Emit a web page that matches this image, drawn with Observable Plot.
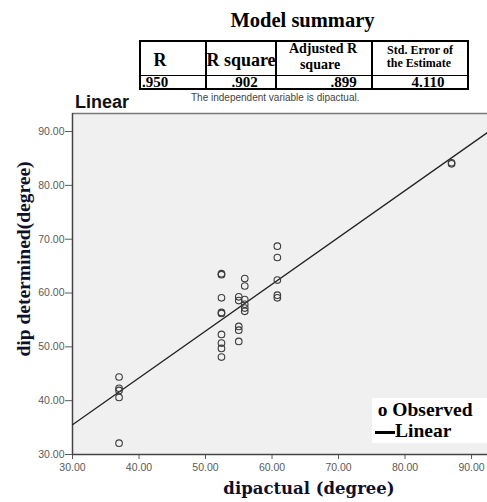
<!DOCTYPE html>
<html><head><meta charset="utf-8">
<script src="https://cdn.jsdelivr.net/npm/d3@7"></script>
<script src="https://cdn.jsdelivr.net/npm/@observablehq/plot@0.6"></script>
<style>
body{margin:0;background:#fff;}
#wrap{position:relative;width:487px;height:502px;overflow:hidden;}
#wrap svg{position:absolute;left:0;top:0;}
.t{position:absolute;white-space:nowrap;line-height:1;}
.ln{position:absolute;background:#000;}
</style></head><body>
<div id="wrap"></div>
<script>
// ---- data ----
const summaryHeaders = ["R", "R square", "Adjusted R", "square", "Std. Error of", "the Estimate"];
const summaryValues = [".950", ".902", ".899", "4.110"];
const dipActual = [
  37, 37, 37, 37, 37,
  52.4, 52.4, 52.4, 52.4, 52.4, 52.4, 52.4, 52.4, 52.4,
  55.0, 55.0, 55.0, 55.0, 55.0,
  55.9, 55.9, 55.9, 55.9, 55.9, 55.9,
  60.8, 60.8, 60.8, 60.8, 60.8,
  87, 87
];
const dipDetermined = [
  44.4, 42.3, 41.9, 40.6, 32.1,
  63.6, 63.4, 59.1, 56.4, 56.2, 52.3, 50.7, 49.7, 48.1,
  59.3, 58.6, 53.8, 53.1, 51.0,
  62.7, 61.3, 58.8, 57.9, 57.2, 56.6,
  68.7, 66.6, 62.4, 59.6, 59.1,
  84.0, 84.2
];
const fitCoef = [9.45, 0.8697]; // intercept, slope of the linear fit
const xTicks = [30, 40, 50, 60, 70, 80, 90];
const yTicks = [30, 40, 50, 60, 70, 80, 90];
const xDomain = [30, 92.4];
const yDomain = [30, 93.35];

// ---- build ----
const points = dipActual.map((x, i) => ({x, y: dipDetermined[i]}));
const fitLine = xDomain.map(x => ({x, y: fitCoef[0] + fitCoef[1] * x}));

const plot = Plot.plot({
  width: 487, height: 502,
  marginLeft: 72, marginRight: 0, marginTop: 113, marginBottom: 48,
  style: {fontFamily: '"Liberation Sans", Arial, sans-serif', fontSize: "10.5px", color: "#5a5a5a", background: "transparent", overflow: "visible"},
  x: {domain: xDomain, ticks: xTicks, tickFormat: d3.format(".2f"), tickSize: 5, tickPadding: 4, label: null},
  y: {domain: yDomain, ticks: yTicks, tickFormat: d3.format(".2f"), tickSize: 7, tickPadding: 1, label: null},
  marks: [
    Plot.frame({fill: "#f0f0f0", stroke: null}),
    Plot.ruleY([yDomain[1]], {stroke: "#777", strokeWidth: 1.5}),
    Plot.ruleX([xDomain[0]], {stroke: "#444", strokeWidth: 1.5}),
    Plot.ruleY([yDomain[0]], {stroke: "#444", strokeWidth: 1.5}),
    Plot.line(fitLine, {x: "x", y: "y", stroke: "#222", strokeWidth: 1.3, clip: true}),
    Plot.dot(points, {x: "x", y: "y", r: 3.3, stroke: "#3c3c3c", strokeWidth: 1.1, fill: "none"})
  ]
});
const wrap = document.getElementById("wrap");
wrap.appendChild(plot);

const SERIF = '"Liberation Serif","Times New Roman",serif';
const SANS = '"Liberation Sans",Arial,sans-serif';
function txt(s, x, base, size, opt = {}) {
  const d = document.createElement("div");
  d.className = "t";
  d.textContent = s;
  d.style.fontFamily = opt.font || SERIF;
  d.style.fontSize = size + "px";
  d.style.fontWeight = opt.weight || "bold";
  d.style.color = opt.color || "#000";
  if (opt.ls) d.style.letterSpacing = opt.ls + "px";
  d.style.left = x + "px";
  d.style.top = (base - 0.84 * size) + "px";
  if (opt.anchor === "middle") d.style.transform = "translateX(-50%)";
  wrap.appendChild(d);
  return d;
}
function box(l, t, w, h, bg) {
  const d = document.createElement("div");
  d.className = "ln";
  d.style.left = l + "px"; d.style.top = t + "px";
  d.style.width = w + "px"; d.style.height = h + "px";
  if (bg) d.style.background = bg;
  wrap.appendChild(d);
  return d;
}

// title + table
txt("Model summary", 302.5, 27, 20.5, {anchor: "middle"});
box(139, 40, 330, 2); box(139, 88, 330, 2); box(139, 40, 2, 50); box(467, 40, 2, 50);
box(139, 74.5, 330, 1.5);
box(205, 40, 1.5, 50); box(275, 40, 1.5, 50); box(371, 40, 1.5, 50);
txt(summaryHeaders[0], 160, 65.7, 18, {anchor: "middle"});
txt(summaryHeaders[1], 241, 65.7, 18, {anchor: "middle"});
txt(summaryHeaders[2], 323, 54, 14, {anchor: "middle"});
txt(summaryHeaders[3], 320, 69.5, 14, {anchor: "middle"});
txt(summaryHeaders[4], 420, 54, 12, {anchor: "middle"});
txt(summaryHeaders[5], 419, 67.5, 12, {anchor: "middle"});
txt(summaryValues[0], 155, 87.3, 15, {anchor: "middle"});
txt(summaryValues[1], 244.5, 87.3, 15, {anchor: "middle"});
txt(summaryValues[2], 343.5, 87.3, 15, {anchor: "middle"});
txt(summaryValues[3], 428, 87.3, 15, {anchor: "middle"});

// chart header + note
txt("Linear", 75, 108, 18, {font: SANS, color: "#111"});
txt("The independent variable is dipactual.", 191, 101.5, 10, {font: SANS, weight: "normal", color: "#444"});

// axis titles
const yl = document.createElement("div");
yl.className = "t";
yl.textContent = "dip determined(degree)";
Object.assign(yl.style, {fontFamily: SERIF, fontSize: "19.5px", fontWeight: "bold", color: "#10102a",
  left: "24px", top: "259px", transform: "translate(-50%,-50%) rotate(-90deg)"});
wrap.appendChild(yl);
txt("dipactual (degree)", 309, 495, 16.5, {font: '"DejaVu Serif",serif', anchor: "middle", color: "#10102a"});

// legend
box(372, 398, 115, 45, "#fff");
txt("o Observed", 377.7, 416, 19.5);
box(375, 430.5, 20, 3, "#000");
txt("Linear", 395, 437, 19.5);
</script>
</body></html>
